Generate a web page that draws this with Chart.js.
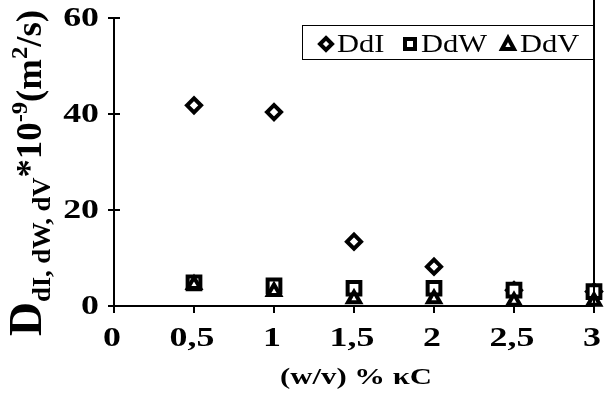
<!DOCTYPE html>
<html><head><meta charset="utf-8">
<script src="https://cdn.jsdelivr.net/npm/chart.js@4/dist/chart.umd.min.js"></script>
<style>html,body{margin:0;padding:0;background:#fff}#w{width:607px;height:399px}</style>
</head><body><div id="w"><canvas id="c"></canvas></div>
<script>
const xValues = [0.5, 1, 1.5, 2, 2.5, 3];
const ddI = [41.8, 40.4, 13.4, 8.2, 3.3, 3.0];
const ddW = [4.8, 4.2, 3.7, 3.7, 3.3, 3.0];
const ddV = [4.5, 3.0, 1.5, 1.5, 1.0, 1.0];
const seriesNames = ['DdI', 'DdW', 'DdV'];
const yTicks = [0, 20, 40, 60];
const xTicks = [0, 0.5, 1, 1.5, 2, 2.5, 3];
const xTitle = '(w/v) % κC';

const SERIF = '"Liberation Serif","Times New Roman",serif';
const SX = 1.28; // horizontal stretch seen in the reference text
const toPts = vals => vals.map((v, i) => ({x: xValues[i], y: v}));
const styles = ['rectRot', 'rect', 'triangle'];
const radii = [7, 9, 7];

function stretchedText(ctx, txt, x, y, font, align, sx) {
  ctx.save();
  ctx.font = font;
  const w = ctx.measureText(txt).width * sx;
  let x0 = x;
  if (align === 'center') x0 = x - w / 2; else if (align === 'right') x0 = x - w;
  ctx.translate(x0, y); ctx.scale(sx, 1);
  ctx.textAlign = 'left';
  ctx.fillText(txt, 0, 0);
  ctx.restore();
}

const decor = {
  id: 'decor',
  afterDraw(chart) {
    const ctx = chart.ctx, a = chart.chartArea, ys = chart.scales.y, xs = chart.scales.x;
    ctx.save();
    ctx.strokeStyle = '#000'; ctx.fillStyle = '#000'; ctx.lineWidth = 2;
    // inner tick marks on y axis (cross ticks)
    yTicks.forEach(t => {
      const py = Math.round(ys.getPixelForValue(t));
      ctx.beginPath(); ctx.moveTo(a.left, py); ctx.lineTo(a.left + 6, py); ctx.stroke();
    });
    // right border line
    ctx.beginPath(); ctx.moveTo(a.right, 0); ctx.lineTo(a.right, a.bottom); ctx.stroke();
    // tick labels
    ctx.textBaseline = 'middle';
    yTicks.forEach(t => {
      stretchedText(ctx, String(t), a.left - 15, ys.getPixelForValue(t) + 1, 'bold 28px ' + SERIF, 'right', SX);
    });
    xTicks.forEach(t => {
      stretchedText(ctx, String(t).replace('.', ','), xs.getPixelForValue(t) - 2, a.bottom + 33, 'bold 28px ' + SERIF, 'center', SX);
    });
    // legend box
    ctx.lineWidth = 1;
    ctx.strokeRect(302.5, 25.5, 292, 34);
    const lx = [326, 410, 508];
    const tx = [337, 421, 520];
    seriesNames.forEach((n, i) => {
      const cy = 44;
      ctx.lineWidth = 4; ctx.fillStyle = '#fff'; ctx.lineJoin = 'miter';
      ctx.beginPath();
      if (i === 0) { ctx.moveTo(lx[i], cy - 6); ctx.lineTo(lx[i] + 6, cy); ctx.lineTo(lx[i], cy + 6); ctx.lineTo(lx[i] - 6, cy); ctx.closePath(); }
      else if (i === 1) { ctx.rect(lx[i] - 5, cy - 5, 10, 10); }
      else { ctx.moveTo(lx[i], cy - 6); ctx.lineTo(lx[i] + 6, cy + 5); ctx.lineTo(lx[i] - 6, cy + 5); ctx.closePath(); }
      ctx.fill(); ctx.stroke();
      ctx.fillStyle = '#000';
      stretchedText(ctx, n, tx[i], cy + 1, '25px ' + SERIF, 'left', 1.22);
    });
    // x axis title
    stretchedText(ctx, xTitle, 356, 378, 'bold 24px ' + SERIF, 'center', SX);
    // y axis title (rotated, with sub/superscripts)
    const parts = [
      {t: 'D', f: 'bold 46px ', dy: 0},
      {t: 'dI, dW, dV', f: 'bold 26px ', dy: 9},
      {t: '*10', f: 'bold 36px ', dy: 0},
      {t: '-9', f: 'bold 24px ', dy: -14},
      {t: '(m', f: 'bold 36px ', dy: 0},
      {t: '2', f: 'bold 24px ', dy: -14},
      {t: '/s)', f: 'bold 36px ', dy: 0}
    ];
    let total = 0;
    parts.forEach(p => { ctx.font = p.f + SERIF; p.w = ctx.measureText(p.t).width; total += p.w; });
    const targetLen = 326;
    ctx.textAlign = 'left'; ctx.textBaseline = 'alphabetic';
    ctx.translate(41, 173); ctx.rotate(-Math.PI / 2);
    ctx.scale(targetLen / total, 1);
    let x = -total / 2;
    parts.forEach(p => { ctx.font = p.f + SERIF; ctx.fillText(p.t, x, p.dy); x += p.w; });
    ctx.restore();
  }
};

new Chart(document.getElementById('c'), {
  type: 'scatter',
  data: {
    datasets: seriesNames.map((n, i) => ({
      label: n,
      data: toPts([ddI, ddW, ddV][i]),
      pointStyle: styles[i],
      pointRadius: radii[i],
      pointHoverRadius: radii[i],
      borderColor: '#000',
      backgroundColor: '#fff',
      pointBorderWidth: 4,
      order: 3 - i,
      clip: false
    }))
  },
  options: {
    responsive: true, maintainAspectRatio: false, animation: false,
    layout: {padding: {top: 18, right: 5, bottom: 0, left: 0}},
    plugins: {legend: {display: false}, tooltip: {enabled: false}},
    scales: {
      x: {
        type: 'linear', min: 0, max: 3,
        afterBuildTicks: s => { s.ticks = xTicks.map(v => ({value: v})); },
        afterFit: s => { s.height = 93; },
        grid: {display: true, drawOnChartArea: false, color: '#000', lineWidth: 2, tickLength: 7},
        border: {display: true, color: '#000', width: 2},
        ticks: {display: false}
      },
      y: {
        min: 0, max: 60,
        afterBuildTicks: s => { s.ticks = yTicks.map(v => ({value: v})); },
        afterFit: s => { s.width = 114; },
        grid: {display: true, drawOnChartArea: false, color: '#000', lineWidth: 2, tickLength: 6},
        border: {display: true, color: '#000', width: 2},
        ticks: {display: false}
      }
    }
  },
  plugins: [decor]
});
</script></body></html>
